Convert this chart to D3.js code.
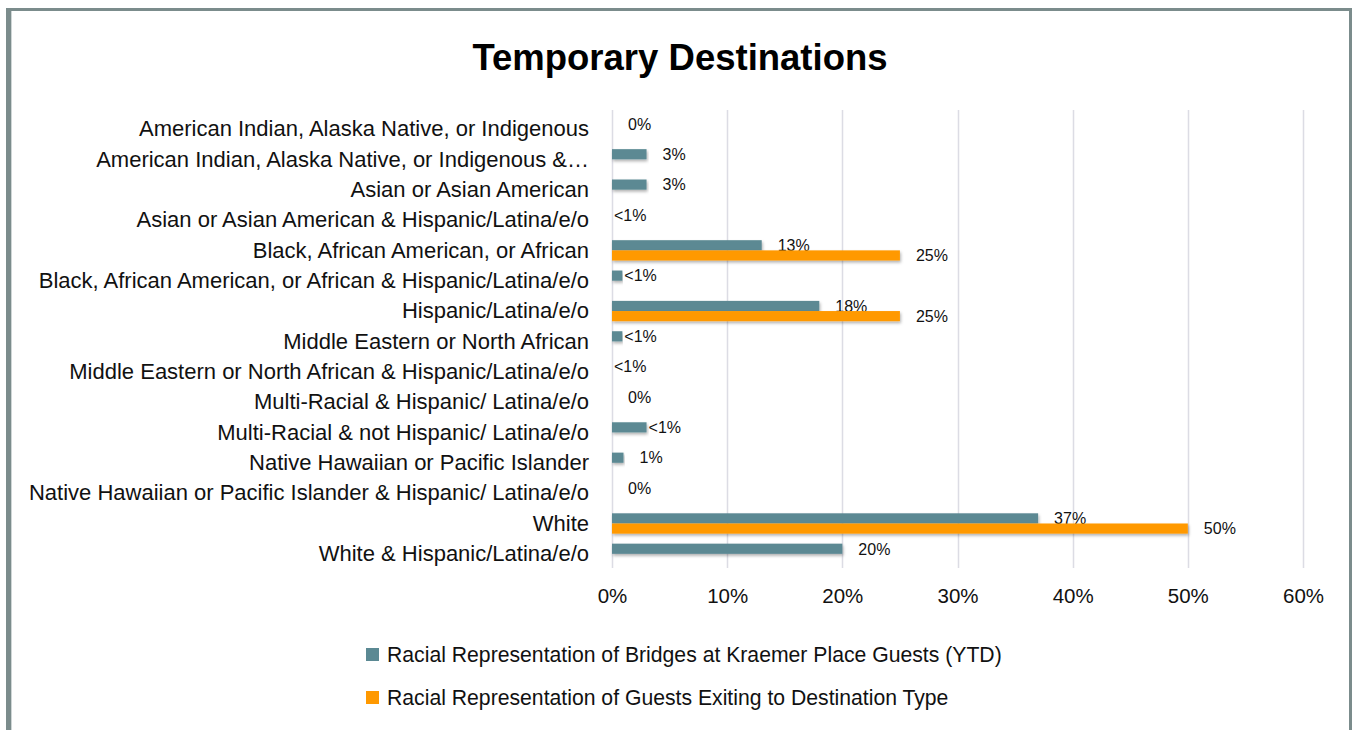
<!DOCTYPE html>
<html>
<head>
<meta charset="utf-8">
<script src="https://cdn.jsdelivr.net/npm/d3@7"></script>
<style>
  html, body { margin: 0; padding: 0; background: #fff; }
  svg { display: block; font-family: "Liberation Sans", Arial, sans-serif; }
</style>
</head>
<body>
<div id="chart"></div>
<script>
// Temporary Destinations – clustered horizontal bars, two series.
const categories = [
    "American Indian, Alaska Native, or Indigenous",
    "American Indian, Alaska Native, or Indigenous &…",
    "Asian or Asian American",
    "Asian or Asian American & Hispanic/Latina/e/o",
    "Black, African American, or African",
    "Black, African American, or African & Hispanic/Latina/e/o",
    "Hispanic/Latina/e/o",
    "Middle Eastern or North African",
    "Middle Eastern or North African & Hispanic/Latina/e/o",
    "Multi-Racial & Hispanic/ Latina/e/o",
    "Multi-Racial & not Hispanic/ Latina/e/o",
    "Native Hawaiian or Pacific Islander",
    "Native Hawaiian or Pacific Islander & Hispanic/ Latina/e/o",
    "White",
    "White & Hispanic/Latina/e/o"
];
const seriesNames = [
    "Racial Representation of Bridges at Kraemer Place Guests (YTD)",
    "Racial Representation of Guests Exiting to Destination Type"
];
const guestsValues = [0, 3, 3, 0, 13, 0.9, 18, 0.9, 0, 0, 3, 1, 0, 37, 20];
const guestsLabels = ["0%", "3%", "3%", "<1%", "13%", "<1%", "18%", "<1%", "<1%", "0%", "<1%", "1%", "0%", "37%", "20%"];
const exitValues = [0, 0, 0, 0, 25, 0, 25, 0, 0, 0, 0, 0, 0, 50, 0];
const exitLabels = ["", "", "", "", "25%", "", "25%", "", "", "", "", "", "", "50%", ""];
const xTicks = [0, 10, 20, 30, 40, 50, 60];

const colors = ["#5b8993", "#ff9900"];
const W = 1352, H = 730;

const svg = d3.select("#chart").append("svg")
    .attr("width", W)
    .attr("height", H);

svg.append("rect").attr("width", W).attr("height", H).attr("fill", "#fff");

// soft drop shadow like the office chart
const defs = svg.append("defs");
defs.append("filter").attr("id", "shadow")
    .attr("x", "-5%").attr("y", "-30%").attr("width", "110%").attr("height", "180%")
    .append("feDropShadow")
    .attr("dx", 1).attr("dy", 2).attr("stdDeviation", 1.5)
    .attr("flood-color", "#000").attr("flood-opacity", 0.3);

// frame
const frame = svg.append("g").attr("stroke", "#7b8c8c").attr("fill", "none");
frame.append("line").attr("x1", 8.5).attr("x2", 8.5).attr("y1", 8).attr("y2", H).attr("stroke-width", 5);
frame.append("line").attr("x1", 6).attr("x2", 1352).attr("y1", 9.5).attr("y2", 9.5).attr("stroke-width", 3);
frame.append("line").attr("x1", 1350.5).attr("x2", 1350.5).attr("y1", 8).attr("y2", H).attr("stroke-width", 3);
svg.append("line").attr("x1", 11.5).attr("x2", 11.5).attr("y1", 11).attr("y2", H)
    .attr("stroke", "#cfd6d6").attr("stroke-width", 1);

// title
svg.append("text")
    .attr("x", 680).attr("y", 70)
    .attr("text-anchor", "middle")
    .attr("font-size", 36.5).attr("font-weight", "bold")
    .attr("fill", "#000")
    .text("Temporary Destinations");

// scales
const x = d3.scaleLinear().domain([0, 60]).range([612, 1303]);
const y = d3.scaleBand().domain(categories).range([113.8, 569]).paddingInner(0.33).paddingOuter(0.165);
const ySub = d3.scaleBand().domain([0, 1]).range([0, y.bandwidth()]);

// gridlines
svg.append("g")
    .selectAll("line")
    .data(xTicks)
    .join("line")
    .attr("x1", d => Math.round(x(d)) + 0.5)
    .attr("x2", d => Math.round(x(d)) + 0.5)
    .attr("y1", 110).attr("y2", 568)
    .attr("stroke", "#dcdce4").attr("stroke-width", 1.5);

// x axis labels
const xAxis = d3.axisBottom(x).tickValues(xTicks).tickFormat(d => d + "%").tickSize(0).tickPadding(0);
const gx = svg.append("g").attr("transform", "translate(0,588)").call(xAxis);
gx.select(".domain").remove();
gx.selectAll("text")
    .attr("font-size", 20.5)
    .attr("font-family", "'Liberation Sans', Arial, sans-serif")
    .attr("fill", "#111")
    .attr("dy", "0.75em");

// category labels
const yAxis = d3.axisLeft(y).tickSize(0).tickPadding(0);
const gy = svg.append("g").attr("transform", "translate(589,0)").call(yAxis);
gy.select(".domain").remove();
gy.selectAll("text")
    .attr("font-size", 22)
    .attr("font-family", "'Liberation Sans', Arial, sans-serif")
    .attr("fill", "#111")
    .attr("dy", "0.33em");

// bars
const series = [
    { values: guestsValues, labels: guestsLabels },
    { values: exitValues, labels: exitLabels }
];

series.forEach((s, i) => {
    const rows = categories.map((c, j) => ({ cat: c, v: s.values[j], label: s.labels[j] }));
    svg.append("g")
        .selectAll("rect")
        .data(rows.filter(d => d.v > 0))
        .join("rect")
        .attr("x", x(0))
        .attr("y", d => y(d.cat) + ySub(i))
        .attr("width", d => x(d.v) - x(0))
        .attr("height", ySub.bandwidth())
        .attr("fill", colors[i])
        .attr("filter", "url(#shadow)");

    svg.append("g")
        .selectAll("text")
        .data(rows.filter(d => d.label !== ""))
        .join("text")
        .attr("x", d => x(d.v) + (d.label.startsWith("<") ? 2 : 16))
        .attr("y", d => y(d.cat) + ySub(i) + ySub.bandwidth() / 2)
        .attr("dy", "0.36em")
        .attr("font-size", 16)
        .attr("fill", "#111")
        .text(d => d.label);
});

// legend
const legend = svg.append("g")
    .selectAll("g")
    .data(seriesNames)
    .join("g")
    .attr("transform", (d, i) => `translate(366,${648 + i * 43})`);
legend.append("rect")
    .attr("width", 13).attr("height", 13)
    .attr("fill", (d, i) => colors[i]);
legend.append("text")
    .attr("x", 21).attr("y", 6.5)
    .attr("dy", "0.36em")
    .attr("font-size", 21.2)
    .attr("fill", "#111")
    .text(d => d);
</script>
</body>
</html>
